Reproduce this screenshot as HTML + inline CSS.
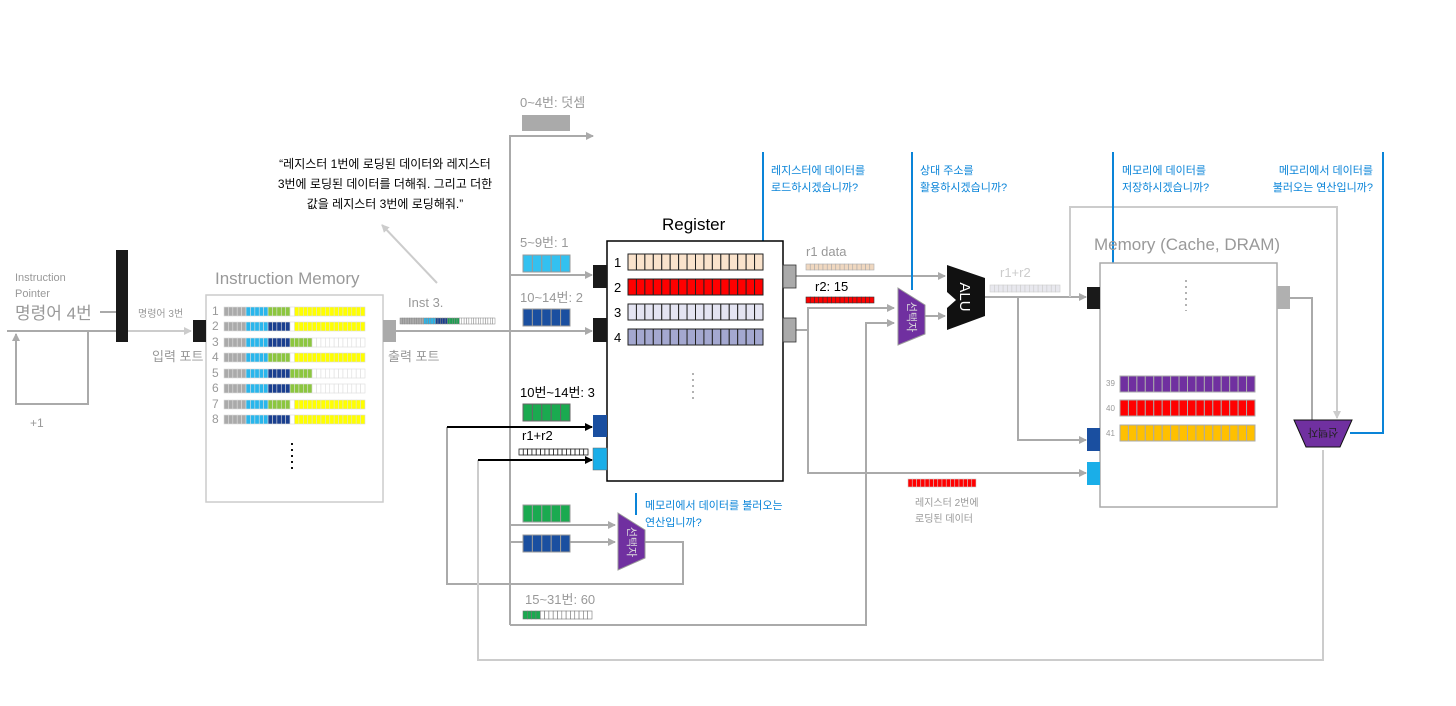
<!DOCTYPE html>
<html><head><meta charset="utf-8"><style>
html,body{margin:0;padding:0;background:#fff;}
svg{display:block;font-family:"Liberation Sans","Noto Sans CJK KR",sans-serif;}
</style></head><body>
<svg id="s" width="1456" height="706" viewBox="0 0 1456 706" xmlns="http://www.w3.org/2000/svg">
<defs>
<marker id="ag" markerWidth="8" markerHeight="8" refX="7" refY="4" orient="auto" markerUnits="userSpaceOnUse"><path d="M0,0 L8,4 L0,8 z" fill="#aaa"/></marker>
<marker id="al" markerWidth="8" markerHeight="8" refX="7" refY="4" orient="auto" markerUnits="userSpaceOnUse"><path d="M0,0 L8,4 L0,8 z" fill="#ccc"/></marker>
<marker id="ab" markerWidth="8" markerHeight="8" refX="7" refY="4" orient="auto" markerUnits="userSpaceOnUse"><path d="M0,0 L8,4 L0,8 z" fill="#000"/></marker>
</defs>
<g fill="none" stroke="#aaa" stroke-width="2">
<!-- IP loop -->
<polyline points="100,312 116,312"/>
<line x1="7" y1="331" x2="116" y2="331"/>
<polyline points="88,331 88,404 16,404 16,334" marker-end="url(#ag)"/>
<line x1="128" y1="331" x2="191" y2="331" stroke="#ccc" marker-end="url(#al)"/>
<!-- out of instruction memory -->
<line x1="396" y1="331" x2="510" y2="331"/>
<line x1="437" y1="283" x2="382" y2="225" stroke="#ccc" marker-end="url(#al)"/>
<!-- bus -->
<polyline points="510,625 510,136 593,136" marker-end="url(#ag)"/>
<line x1="510" y1="275" x2="592" y2="275" marker-end="url(#ag)"/>
<line x1="510" y1="331" x2="592" y2="331" marker-end="url(#ag)"/>
<line x1="510" y1="525" x2="615" y2="525" marker-end="url(#ag)"/>
<line x1="510" y1="542" x2="615" y2="542" marker-end="url(#ag)"/>
<polyline points="510,625 866,625 866,323 894,323" marker-end="url(#ag)"/>
<polyline points="645,542 683,542 683,584 447,584 447,427"/>
<polyline points="478,460 478,660 1323,660 1323,450" stroke="#ccc"/>
<!-- register outs -->
<polyline points="763,262 775,262 775,276 783,276"/>
<polyline points="763,312 775,312 775,330 783,330"/>
<line x1="796" y1="276" x2="945" y2="276" marker-end="url(#ag)"/>
<polyline points="796,330 808,330 808,308 894,308" marker-end="url(#ag)"/>
<polyline points="808,330 808,473 1086,473" marker-end="url(#ag)"/>
<line x1="925" y1="316" x2="945" y2="316" marker-end="url(#ag)"/>
<line x1="985" y1="297" x2="1086" y2="297" marker-end="url(#ag)"/>
<polyline points="1018,297 1018,440 1086,440" marker-end="url(#ag)"/>
<polyline points="1070,297 1070,207 1337,207 1337,418" stroke="#ccc" marker-end="url(#al)"/>
<polyline points="1255,408 1265,408 1265,298 1277,298"/>
<polyline points="1290,298 1312,298 1312,422"/>
</g>
<g stroke="#000" stroke-width="2" fill="none">
<line x1="447" y1="427" x2="592" y2="427" marker-end="url(#ab)"/>
<line x1="478" y1="460" x2="592" y2="460" marker-end="url(#ab)"/>
<polyline points="607,460 611,460 611,312 628,312" stroke-width="1.5"/>
</g>
<g stroke="#0a84d8" stroke-width="2" fill="none">
<line x1="763" y1="152" x2="763" y2="250"/>
<line x1="912" y1="152" x2="912" y2="290"/>
<line x1="1113" y1="152" x2="1113" y2="270"/>
<polyline points="1350,433 1383,433 1383,152"/>
<line x1="636" y1="493" x2="636" y2="515"/>
</g>
<!-- boxes -->
<rect x="206" y="295" width="177" height="207" fill="#fff" stroke="#ccc" stroke-width="1.5"/>
<rect x="607" y="241" width="176" height="240" fill="#fff" stroke="#000" stroke-width="1.5"/>
<rect x="1100" y="263" width="177" height="244" fill="#fff" stroke="#aaa" stroke-width="1.5"/>
<!-- ports -->
<rect x="116" y="250" width="12" height="92" fill="#1a1a1a"/>
<rect x="193" y="320" width="13" height="22" fill="#1a1a1a"/>
<rect x="383" y="320" width="13" height="22" fill="#aaa"/>
<rect x="593" y="265" width="14" height="23" fill="#1a1a1a"/>
<rect x="593" y="318" width="14" height="24" fill="#1a1a1a"/>
<rect x="593" y="415" width="14" height="22" fill="#1a4fa0"/>
<rect x="593" y="448" width="14" height="22" fill="#1aaee8" stroke="#666" stroke-width="0.5"/>
<rect x="783" y="265" width="13" height="23" fill="#aaa" stroke="#333" stroke-width="0.8"/>
<rect x="783" y="318" width="13" height="24" fill="#aaa" stroke="#333" stroke-width="0.8"/>
<rect x="1087" y="287" width="13" height="22" fill="#1a1a1a"/>
<rect x="1087" y="428" width="13" height="23" fill="#1a4fa0"/>
<rect x="1087" y="462" width="13" height="23" fill="#1aaee8"/>
<rect x="1277" y="286" width="13" height="23" fill="#b0b0b0"/>
<rect x="522" y="115" width="48" height="16" fill="#aaa"/>
<!-- ALU, selectors -->
<polygon points="947,265 985,278 985,316 947,330 947,308 956,300 947,292" fill="#111"/>
<text transform="translate(960,297) rotate(90)" fill="#fff" font-size="15" text-anchor="middle">ALU</text>
<polygon points="898,288 925,305 925,334 898,345" fill="#7030a0" stroke="#999"/>
<text transform="translate(908,317) rotate(90)" fill="#ddd" font-size="11" text-anchor="middle">선택자</text>
<polygon points="618,513 645,530 645,558 618,570" fill="#7030a0" stroke="#999"/>
<text transform="translate(628,542) rotate(90)" fill="#ddd" font-size="11" text-anchor="middle">선택자</text>
<polygon points="1294,420 1352,420 1340,447 1306,447" fill="#7030a0" stroke="#111"/>
<text transform="translate(1323,429) rotate(180)" fill="#222" font-size="11" text-anchor="middle">선택자</text>
<g id="bars"></g>
<!-- dots -->
<line x1="292" y1="443" x2="292" y2="473" stroke="#111" stroke-width="2" stroke-dasharray="2,4"/>
<line x1="693" y1="373" x2="693" y2="403" stroke="#999" stroke-width="1.5" stroke-dasharray="2,4"/>
<line x1="1186" y1="280" x2="1186" y2="311" stroke="#999" stroke-width="1.5" stroke-dasharray="2,4"/>
<!-- text -->
<g fill="#999">
<text x="15" y="281" font-size="11">Instruction</text>
<text x="15" y="297" font-size="11">Pointer</text>
<text x="15" y="319" font-size="17">명령어 4번</text>
<text x="30" y="427" font-size="12">+1</text>
<text x="138" y="317" font-size="10">명령어 3번</text>
<text x="152" y="361" font-size="13">입력 포트</text>
<text x="215" y="284" font-size="17">Instruction Memory</text>
<text x="388" y="361" font-size="13">출력 포트</text>
<text x="408" y="307" font-size="13">Inst 3.</text>
<text x="520" y="107" font-size="13">0~4번: 덧셈</text>
<text x="520" y="247" font-size="13">5~9번: 1</text>
<text x="520" y="302" font-size="13">10~14번: 2</text>
<text x="525" y="604" font-size="13">15~31번: 60</text>
<text x="806" y="256" font-size="13">r1 data</text>
<text x="915" y="506" font-size="10">레지스터 2번에</text>
<text x="915" y="522" font-size="10">로딩된 데이터</text>
<text x="1094" y="250" font-size="17">Memory (Cache, DRAM)</text>
<text x="1106" y="386" font-size="8">39</text>
<text x="1106" y="411" font-size="8">40</text>
<text x="1106" y="436" font-size="8">41</text>
</g>
<text x="1000" y="277" font-size="13" fill="#ccc">r1+r2</text>
<g fill="#000">
<text x="662" y="230" font-size="17">Register</text>
<text x="520" y="397" font-size="13">10번~14번: 3</text>
<text x="522" y="440" font-size="13">r1+r2</text>
<text x="815" y="291" font-size="13">r2: 15</text>
<g font-size="12" text-anchor="middle">
<text x="385" y="168">“레지스터 1번에 로딩된 데이터와 레지스터</text>
<text x="385" y="188">3번에 로딩된 데이터를 더해줘. 그리고 더한</text>
<text x="385" y="208">값을 레지스터 3번에 로딩해줘.”</text>
</g>
</g>
<g fill="#0a84d8" font-size="11">
<text x="771" y="174">레지스터에 데이터를</text>
<text x="771" y="191">로드하시겠습니까?</text>
<text x="920" y="174">상대 주소를</text>
<text x="920" y="191">활용하시겠습니까?</text>
<text x="1122" y="174">메모리에 데이터를</text>
<text x="1122" y="191">저장하시겠습니까?</text>
<text x="1373" y="174" text-anchor="end">메모리에서 데이터를</text>
<text x="1373" y="191" text-anchor="end">불러오는 연산입니까?</text>
<text x="645" y="509">메모리에서 데이터를 불러오는</text>
<text x="645" y="526">연산입니까?</text>
</g>
<g fill="#999" font-size="12">
<text x="212" y="315">1</text><text x="212" y="330">2</text><text x="212" y="346">3</text><text x="212" y="361">4</text>
<text x="212" y="377">5</text><text x="212" y="392">6</text><text x="212" y="408">7</text><text x="212" y="423">8</text>
</g>
<g fill="#000" font-size="13">
<text x="614" y="267">1</text><text x="614" y="292">2</text><text x="614" y="317">3</text><text x="614" y="342">4</text>
</g>
</svg>
<script>
var g=document.getElementById('bars'),NS='http://www.w3.org/2000/svg';
function bar(x,y,w,h,cols,stroke,sw){var n=cols.length,cw=w/n;for(var i=0;i<n;i++){var r=document.createElementNS(NS,'rect');r.setAttribute('x',x+i*cw);r.setAttribute('y',y);r.setAttribute('width',cw);r.setAttribute('height',h);r.setAttribute('fill',cols[i]);r.setAttribute('stroke',stroke);r.setAttribute('stroke-width',sw);g.appendChild(r);}}
function rep(c,n){var a=[];for(var i=0;i<n;i++)a.push(c);return a;}
var G='#aaa',LB='#29b6ec',GR='#8cc63f',DB='#1a3f8f',W='#fff',Y='#ffff00';
var A=[].concat(rep(G,5),rep(LB,5),rep(GR,5),[W],rep(Y,16));
var B=[].concat(rep(G,5),rep(LB,5),rep(DB,5),[W],rep(Y,16));
var C=[].concat(rep(G,5),rep(LB,5),rep(DB,5),rep(GR,5),rep(W,12));
var rows=[A,B,C,A,C,C,A,B],ys=[307,322,338,353,369,384,400,415];
for(var i=0;i<8;i++)bar(224,ys[i],141,9,rows[i],'#ddd',0.6);
bar(400,318,95,6,[].concat(rep(G,10),rep(LB,5),rep(DB,5),rep('#1aa050',5),rep(W,15)),'#888',0.5);
bar(628,254,135,16,rep('#fae3cc',16),'#222',1);
bar(628,279,135,16,rep('#ff0000',16),'#222',1);
bar(628,304,135,16,rep('#e4e4f2',16),'#222',1);
bar(628,329,135,16,rep('#a4a8d0',16),'#222',1);
bar(523,255,47,17,rep('#33c1f0',5),'#999',1);
bar(523,309,47,17,rep('#1a4fa0',5),'#999',1);
bar(523,404,47,17,rep('#1aaa50',5),'#666',1);
bar(523,505,47,17,rep('#1aaa50',5),'#999',1);
bar(523,535,47,17,rep('#1a4fa0',5),'#999',1);
bar(519,449,69,6,rep('#fff',16),'#222',0.8);
bar(523,611,69,8,[].concat(rep('#1aaa50',4),rep(W,12)),'#777',0.6);
bar(806,264,68,6,rep('#f0d8c0',16),'#aaa',0.6);
bar(806,297,68,6,rep('#ff0000',16),'#333',0.6);
bar(908,479,68,8,rep('#ff0000',16),'#ccc',0.6);
bar(990,285,70,7,rep('#e8e8ee',16),'#ccc',0.6);
bar(1120,376,135,16,rep('#7030a0',16),'#aaa',1);
bar(1120,400,135,16,rep('#ff0000',16),'#aaa',1);
bar(1120,425,135,16,rep('#ffc000',16),'#aaa',1);
</script>
</body></html>
